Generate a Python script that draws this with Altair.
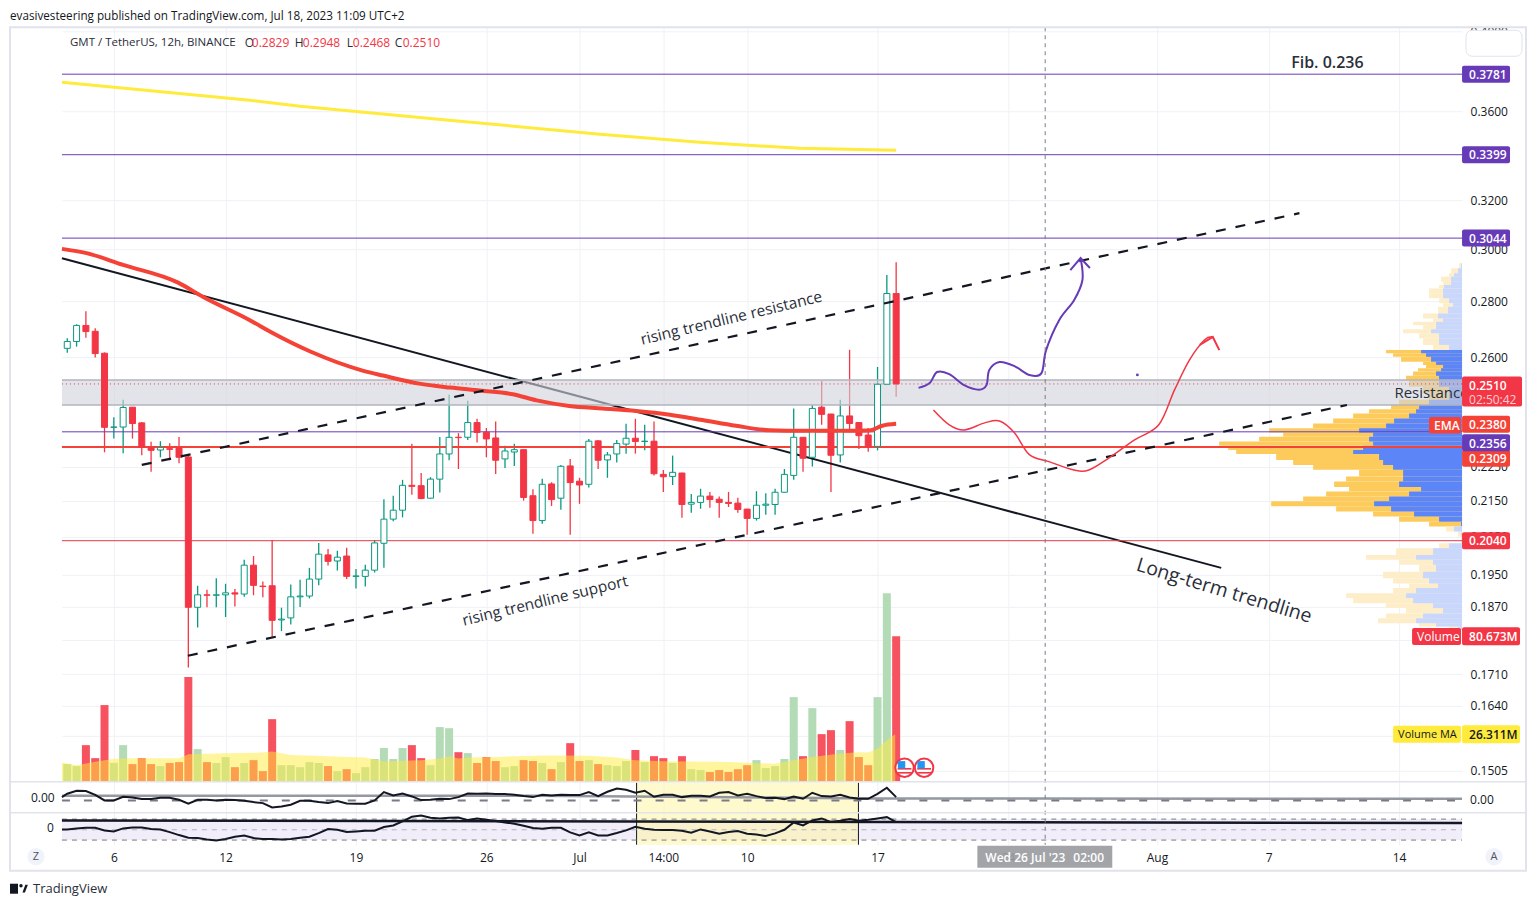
import json

import altair as alt
import pandas as pd

FONT = "Open Sans"
LEFT, TOP, PLOT_W, PLOT_H = 62, 27, 1401, 818

# candles, 12h bars
opens = [.2631, .2655, .2712, .2691, .2614, .2370, .2371, .2434, .2384, .2308,
         .2300, .2304, .2307, .2279, .1868, .1899, .1898, .1899, .1904, .1901,
         .1975, .1921, .1922, .1837, .1842, .1894, .1896, .1939, .2002, .1986,
         .1999, .1946, .1946, .1962, .2033, .2099, .2124, .2195, .2194, .2158,
         .2213, .2288, .2339, .2339, .2385, .2355, .2337, .2273, .2294, .2301,
         .2165, .2095, .2199, .2158, .2252, .2207, .2198, .2328, .2270, .2288,
         .2318, .2336, .2326, .2327, .2227, .2221, .2231, .2141, .2146, .2164,
         .2155, .2146, .2144, .2127, .2101, .2138, .2140, .2175, .2224, .2339,
         .2278, .2434, .2412, .2285, .2406, .2385, .2346, .2311, .2509, .2829]
highs = [.2666, .2716, .2763, .2702, .2617, .2402, .2458, .2434, .2387, .2325,
         .2327, .2321, .2340, .2283, .1922, .1912, .1941, .1927, .1914, .1989,
         .1999, .1933, .2042, .1867, .1925, .1937, .1968, .2034, .2018, .2013,
         .2021, .1965, .1976, .2042, .2155, .2165, .2211, .2319, .2231, .2219,
         .2340, .2474, .2352, .2455, .2397, .2368, .2388, .2313, .2319, .2302,
         .2184, .2214, .2204, .2255, .2273, .2217, .2334, .2331, .2294, .2331,
         .2381, .2397, .2378, .2388, .2240, .2283, .2232, .2170, .2185, .2176,
         .2163, .2176, .2159, .2128, .2178, .2172, .2185, .2243, .2430, .2339,
         .2443, .2520, .2413, .2458, .2626, .2387, .2368, .2567, .2899, .2948]
lows = [.2616, .2637, .2668, .2599, .2293, .2335, .2290, .2335, .2284, .2235,
        .2278, .2269, .2260, .1725, .1819, .1868, .1868, .1844, .1870, .1894,
        .1898, .1893, .1795, .1810, .1826, .1869, .1890, .1923, .1974, .1961,
        .1939, .1915, .1920, .1956, .1968, .2093, .2104, .2168, .2155, .2157,
        .2174, .2269, .2243, .2331, .2323, .2278, .2228, .2246, .2252, .2151,
        .2059, .2086, .2136, .2125, .2056, .2142, .2189, .2243, .2217, .2262,
        .2289, .2289, .2299, .2224, .2176, .2196, .2103, .2117, .2128, .2131,
        .2103, .2133, .2117, .2056, .2095, .2111, .2111, .2174, .2211, .2235,
        .2250, .2378, .2176, .2262, .2363, .2303, .2295, .2299, .2509, .2468]
closes = [.2655, .2712, .2690, .2613, .2370, .2371, .2433, .2382, .2308, .2299,
          .2308, .2302, .2278, .1868, .1899, .1898, .1899, .1904, .1901, .1975,
          .1923, .1920, .1836, .1839, .1894, .1896, .1939, .2004, .1985, .1996,
          .1946, .1947, .1962, .2034, .2099, .2124, .2195, .2192, .2157, .2213,
          .2288, .2339, .2338, .2385, .2354, .2334, .2269, .2297, .2301, .2160,
          .2095, .2198, .2154, .2251, .2203, .2196, .2327, .2269, .2285, .2320,
          .2336, .2326, .2327, .2229, .2220, .2233, .2140, .2146, .2164, .2154,
          .2146, .2143, .2126, .2101, .2138, .2141, .2175, .2227, .2339, .2275,
          .2430, .2411, .2284, .2406, .2382, .2344, .2309, .2509, .2829, .2510]
volumes = [9.8, 8.7, 20.3, 13.1, 42.5, 10.5, 20.3, 9.8, 13.1, 9.8,
           8.7, 10.4, 10.9, 58.0, 18.1, 10.9, 10.4, 13.7, 8.1, 10.4,
           12.0, 5.9, 34.7, 9.2, 9.2, 8.1, 10.9, 10.4, 8.7, 5.9,
           7.0, 4.8, 8.1, 12.6, 18.7, 12.6, 18.7, 20.3, 13.1, 9.2,
           30.3, 29.7, 16.4, 15.9, 10.4, 13.7, 11.5, 8.1, 8.7, 12.0,
           11.5, 10.4, 7.0, 10.9, 21.4, 11.5, 12.0, 9.8, 9.2, 8.7,
           11.5, 17.6, 10.9, 14.2, 13.1, 10.4, 14.2, 7.0, 6.5, 5.4,
           6.5, 5.4, 7.0, 9.2, 12.0, 7.6, 8.7, 12.6, 46.9, 14.2,
           40.8, 26.4, 28.6, 17.6, 33.6, 13.7, 9.2, 46.9, 104.5, 80.673]

ma_idx = [-.57, 1, 2, 3, 4, 5, 6, 12, 13, 16, 21, 22, 24, 28, 32, 34, 36, 38, 40,
          41, 42, 43, 46, 51, 53, 56, 59, 61, 64, 70, 73, 76, 78, 80, 83, 85, 86,
          87, 88, 88.9]
ma_values = [10.7, 9.2, 10.2, 11.1, 12.0, 12.6, 13.1, 13.1, 15.3, 15.7, 16.2, 16.8,
             14.8, 14.2, 13.5, 11.3, 11.6, 12.0, 12.9, 14.2, 12.9, 13.5, 13.8, 14.6,
             14.6, 14.4, 13.5, 12.0, 11.4, 11.1, 10.5, 10.0, 12.0, 13.8, 15.7, 16.4,
             16.2, 18.5, 23.1, 26.311]

ema_idx = [-.57, 2.07, 6, 11.9, 14.6, 19.6, 22.1, 26.1, 31.8, 33.9, 37.8, 41.1, 44.3,
           47.85, 50.4, 53.9, 57.5, 61.1, 64.7, 68.2, 71.8, 75.4, 79, 82.5, 86.1,
           87.5, 89]
ema_values = [.3001, .2984, .2938, .2870, .2816, .2731, .2684, .2620, .2554, .2538,
              .2511, .2498, .2488, .2476, .2456, .2438, .2430, .2422, .2410, .2393,
              .2375, .2361, .2359, .2359, .2360, .2375, .2381]
sma_idx = [-.57, 19.6, 25, 41, 57.2, 67.9, 78.6, 89]
sma_values = [.3741, .3653, .3624, .3558, .3492, .3455, .3428, .3419]

osc1_idx = [-.57] + list(range(90))
osc1 = [10, 20, 29, 28, 17, 0, 0, 11, 9, 4, 4, 8, 8, 2, -10, 2, 2, 0, 2, 1, -1,
        -5, -8, -21, -18, -13, -1, -1, -5, -8, -2, -9, -10, -10, 0, 25, 15, 21, 12,
        1, 2, 5, 4, 10, 21, 20, 21, 19,
        19, 17, 13, 10, 17, 15, 17, 16, 16, 25, 13, 26, 36, 32, 23, 29, 11, 17, 17,
        10, 14, 14, 12, 23, 25, 15, 20, 13, 7, 8, 4, 12, 5, 23, 13, 12, 17, 9, 5, 5,
        20, 38, 10]
osc2 = [1, 1, 4, 6, 6, -2, -5, 4, 7, 7, 2, 1, -7, -16, -24, -25, -29, -32, -28, -21,
        -17, -25, -28, -28, -29, -28, -24, -21, -10, 2, 0, -7, -5, -3, -3, 8, 13, 25,
        39, 43, 36, 34, 36, 37, 29, 34, 30, 26,
        22, 18, 12, 5, 3, 6, 6, -8, -17, -8, -17, -17, -10, -2, 9, 3, 0, -1, -1, -3,
        -9, 1, -5, -12, -7, -4, -12, -14, -19, -11, 0, 22, 13, 28, 34, 23, 27, 32, 27,
        30, 34, 38, 23]

# volume profile rows: upper edge of each row, total and up volume
row_edges = [.2944, .2925, .2906, .2893, .2873, .2861, .2848, .2830, .2811, .2793,
             .2780, .2755, .2737, .2725, .2713, .2698, .2684, .2666, .2643, .2625,
             .2614, .2602, .2585, .2574, .2563, .2552, .2537, .2523, .2501, .2479,
             .2458, .2441, .2427, .2414, .2398, .2382, .2367, .2354, .2341, .2326,
             .2313, .2300, .2288, .2270, .2255, .2241, .2221, .2206, .2190, .2177,
             .2163, .2149, .2135, .2120, .2106, .2092, .2079, .2065, .2051, .2033,
             .2020, .2002, .1989, .1976, .1958, .1941, .1928, .1916, .1903, .1891,
             .1878, .1866, .1853, .1841, .1829, .1821, .1813]
row_total = [3, 11, 13, 21, 19, 23, 33, 33, 23, 19, 24, 39, 29, 49, 39, 59, 43, 39, 29,
             76, 69, 61, 39, 36, 44, 49, 56, 53, 39, 33, 63, 71, 93, 109, 129, 149, 193,
             179, 203, 243, 234, 226, 186, 169, 149, 103, 116, 128, 113, 136, 159, 191,
             126, 89, 63, 33, 16, 4, 1, 23, 66, 96, 63, 43, 79, 69, 53, 69, 116, 109,
             76, 56, 76, 84, 43, 13]
row_up = [1, 4, 8, 11, 11, 18, 19, 19, 13, 9, 14, 24, 19, 26, 26, 31, 23, 23, 13,
          41, 36, 31, 26, 19, 21, 26, 23, 23, 13, 13, 33, 43, 46, 53, 68, 76, 103,
          89, 93, 89, 99, 109, 83, 79, 69, 59, 59, 63, 41, 53, 73, 88,
          71, 48, 23, 1, 8, 1, 0, 13, 29, 46, 29, 26, 39, 33, 24, 46, 56, 49,
          29, 19, 39, 46, 26, 4]

purple_levels = [.3781, .3399, .3044, .2356]
red_levels = [.2309, .2040]
band_low, band_high = .2441, .2523
last_price = .2510

trend_idx, trend_prices = [-.57, 123.9], [.2964, .1968]
resist_idx, resist_prices = [8.0, 132.3], [.2255, .3146]
support_idx, support_prices = [12.95, 137.4], [.1752, .2441]

purple_idx = [91.4, 92.6, 93.4, 94.7, 96.3, 97.9, 98.7, 99.0, 100.1, 101.7, 103.3, 104.6,
              105.1, 106.5, 108.1, 109.0, 108.8]
purple_prices = [.2497, .2513, .2550, .2543, .2506, .2491, .2506, .2557, .2584, .2570,
                 .2540, .2546, .2625, .2731, .2804, .2880, .2965]
purple_head_idx, purple_head_prices = [107.7, 108.8, 109.8], [.2918, .2965, .2926]
red_idx = [93.0, 94.7, 96.3, 98.5, 100.1, 101.7, 103.3, 105.4, 108.1, 109.7, 111.9, 114.6,
           117.2, 118.9, 120.5, 122.1, 123]
red_prices = [.2425, .2378, .2362, .2384, .2390, .2353, .2286, .2265, .2240, .2240, .2277,
              .2331, .2378, .2491, .2591, .2660, .2671]
red_head_idx, red_head_prices = [121.6, 123, 123.7], [.2643, .2671, .2625]

x_ticks = [5, 17, 31, 45, 55, 64, 73, 87, 101, 117, 129, 143]
x_tick_labels = ["6", "12", "19", "26", "Jul", "14:00", "10", "17", "24", "Aug", "7", "14"]
y_ticks = [.4000, .3600, .3200, .3000, .2800, .2600, .2250, .2150, .2050, .1950, .1870,
           .1790, .1710, .1640, .1575, .1505]

candles = pd.DataFrame({"i": range(90), "o": opens, "h": highs, "l": lows, "c": closes,
                        "vol": volumes})
candles["dir"] = ["up" if c >= o else "down" for o, c in zip(opens, closes)]
candles["top"] = candles[["o", "c"]].max(axis=1)
candles["bot"] = candles[["o", "c"]].min(axis=1)

profile = pd.DataFrame({"y": row_edges[:-1], "y2": row_edges[1:],
                        "total": row_total, "up": row_up, "zero": 0})
profile["zone"] = ["in" if .2092 <= y <= .2625 else "out" for y in row_edges[:-1]]

IDX = alt.Scale(domain=[-.569, 149.76], range=[0, PLOT_W], nice=False, zero=False, padding=0)
PRICE = alt.Scale(type="log", domain=[.1483, .4023], range=[755, 0], nice=False)
VOL = alt.Scale(domain=[0, 100], range=[755, 574.4], nice=False)
OSC1 = alt.Scale(domain=[-37, 53], range=[786, 756], nice=False, zero=False)
OSC2 = alt.Scale(domain=[-45, 48], range=[818, 787], nice=False, zero=False)
PROF = alt.Scale(domain=[0, PLOT_W], range=[PLOT_W, 0], nice=False)
FULL = alt.Scale(domain=[0, 1], range=[PLOT_H, 0], nice=False)

DIR_COL = alt.Scale(domain=["up", "down"], range=["#089981", "#f23645"])
DIR_FILL = alt.Scale(domain=["up", "down"], range=["#ffffff", "#f23645"])
VOL_COL = alt.Scale(domain=["up", "down"], range=["#b2dbb6", "#f7525f"])


def px(v):
    return alt.value(v - LEFT)


def py(v):
    return alt.value(v - TOP)


def xq(field):
    return alt.X(field, type="quantitative", scale=IDX, axis=None)


def yq(field, scale=PRICE):
    return alt.Y(field, type="quantitative", scale=scale, axis=None, stack=None)


def path(xs, ys, color, width, scale=PRICE, **mark):
    df = pd.DataFrame({"x": xs, "y": ys, "n": range(len(xs))})
    return alt.Chart(df).mark_line(color=color, strokeWidth=width, **mark).encode(
        x=xq("x"), y=yq("y", scale), order=alt.Order("n:Q"))


def label(txt, x, y, **mark):
    opts = dict(align="left", baseline="middle", font=FONT, fontSize=12, color="#131722", dy=.5)
    opts.update(mark)
    return alt.Chart(pd.DataFrame({"t": [txt]})).mark_text(**opts).encode(
        x=px(x), y=py(y), text="t:N")


def note(txt, i, price, **mark):
    opts = dict(align="center", baseline="middle", font=FONT, color="#2a2e39")
    opts.update(mark)
    return alt.Chart(pd.DataFrame({"t": [txt], "x": [i], "y": [price]})).mark_text(**opts).encode(
        x=xq("x"), y=yq("y"), text="t:N")


def box(x0, x1, y0, y1, **mark):
    return alt.Chart(pd.DataFrame({"a": [0]})).mark_rect(**mark).encode(
        x=px(x0), x2=px(x1), y=py(y0), y2=py(y1))


def tag(value, txt, color, x0, x1, scale, pad, txt_color="#ffffff", delta=None):
    # value is where the tag sits, the axis pushes crowded tags apart
    hi, lo = (value * pad, value / pad) if delta is None else (value + delta, value - delta)
    df = pd.DataFrame({"hi": [hi], "lo": [lo], "v": [value], "t": [txt]})
    back = alt.Chart(df).mark_rect(color=color, cornerRadius=2).encode(
        x=px(x0), x2=px(x1), y=yq("hi", scale), y2=alt.Y2("lo"))
    front = alt.Chart(df).mark_text(align="left", baseline="middle", font=FONT, fontSize=12,
                                    fontWeight=600, color=txt_color, dy=.7).encode(
        x=px(x0 + 7), y=yq("v", scale), text="t:N")
    return [back, front]


layers = []

# x axis on its own layer so the grid runs through all three panes
axis_expr = json.dumps(dict(zip(map(str, x_ticks), x_tick_labels))) + "[datum.value]"
layers.append(alt.Chart(pd.DataFrame({"x": x_ticks, "y": 0})).mark_rule(opacity=0).encode(
    x=alt.X("x:Q", scale=IDX, axis=alt.Axis(
        values=x_ticks, labelExpr=axis_expr, grid=True, gridColor="#f0f1f5", domain=False, ticks=False,
        title=None, labelFont=FONT, labelFontSize=12, labelColor="#131722", labelPadding=8,
        labelOverlap=False, labelFlush=False, orient="bottom")),
    y=alt.Y("y:Q", scale=FULL, axis=None)))

# profile sits under the resistance band
zone_yellow = alt.Scale(domain=["in", "out"], range=["#fdcb5c", "#fdeec9"])
zone_blue = alt.Scale(domain=["in", "out"], range=["#5c86f7", "#c8d7fb"])
layers.append(alt.Chart(profile).mark_rect().encode(
    x=alt.X("zero:Q", scale=PROF, axis=None), x2="total:Q", y=yq("y"), y2=alt.Y2("y2"),
    color=alt.Color("zone:N", scale=zone_yellow, legend=None)))
layers.append(alt.Chart(profile).mark_rect().encode(
    x=alt.X("zero:Q", scale=PROF, axis=None), x2="up:Q", y=yq("y"), y2=alt.Y2("y2"),
    color=alt.Color("zone:N", scale=zone_blue, legend=None)))

# sub panes
layers.append(box(62, 1463, 819.3, 840.3, color="#ede9f7", opacity=.8))
layers.append(box(637, 859, 783, 845, color="#fff59d", opacity=.5))
for x_line in [637, 859]:
    layers.append(alt.Chart(pd.DataFrame({"a": [0]})).mark_rule(color="#131722", strokeWidth=1).encode(
        x=px(x_line), y=py(783), y2=py(845)))

# wicks carry the price axis
layers.append(alt.Chart(candles).mark_rule(strokeWidth=1.3).encode(
    x=alt.X("i:Q", scale=IDX, axis=None),
    y=alt.Y("h:Q", scale=PRICE, axis=alt.Axis(
        values=y_ticks, format=".4f", grid=True, gridColor="#f0f1f5", domain=False, ticks=False,
        title=None, labelFont=FONT, labelFontSize=12, labelColor="#131722", labelPadding=8,
        labelOverlap=False, labelFlush=False, orient="right")),
    y2="l:Q",
    color=alt.Color("dir:N", scale=DIR_COL, legend=None)))

layers.append(path(trend_idx, trend_prices, "#131722", 2))
layers.append(alt.Chart(pd.DataFrame({"a": [band_high], "b": [band_low]})).mark_rect(
    color="#d1d4dc", opacity=.62).encode(y=yq("a"), y2=alt.Y2("b")))
layers.append(alt.Chart(pd.DataFrame({"y": [band_high, band_low]})).mark_rule(
    color="#b2b5be", strokeWidth=1.5).encode(y=yq("y")))

layers.append(alt.Chart(pd.DataFrame({"y": purple_levels})).mark_rule(
    color="#673ab7", strokeWidth=1).encode(y=yq("y")))
layers.append(alt.Chart(pd.DataFrame({"y": red_levels[:1]})).mark_rule(
    color="#f44336", strokeWidth=2).encode(y=yq("y")))
layers.append(alt.Chart(pd.DataFrame({"y": red_levels[1:]})).mark_rule(
    color="#e53945", strokeWidth=1).encode(y=yq("y")))
layers.append(alt.Chart(pd.DataFrame({"y": [last_price]})).mark_rule(
    color="#f23645", strokeWidth=1, strokeDash=[1, 3]).encode(y=yq("y")))

# candle bodies
layers.append(alt.Chart(candles).mark_bar(size=6, strokeWidth=1).encode(
    x=xq("i"), y=yq("top"), y2=alt.Y2("bot"),
    fill=alt.Fill("dir:N", scale=DIR_FILL, legend=None),
    stroke=alt.Stroke("dir:N", scale=DIR_COL, legend=None)))

# volume and its moving average
layers.append(alt.Chart(candles).mark_bar(size=8, orient="vertical").encode(
    x=xq("i"), y=yq("vol", VOL),
    color=alt.Color("dir:N", scale=VOL_COL, legend=None)))
layers.append(alt.Chart(pd.DataFrame({"x": ma_idx, "y": ma_values})).mark_area(
    color="#ffeb3b", opacity=.5, orient="vertical").encode(x=xq("x"), y=yq("y", VOL)))

layers.append(path(sma_idx, sma_values, "#ffeb3b", 3))
layers.append(path(ema_idx, ema_values, "#f44336", 4, interpolate="monotone"))
layers.append(path(resist_idx, resist_prices, "#131722", 2.2, strokeDash=[10, 10]))
layers.append(path(support_idx, support_prices, "#131722", 2.2, strokeDash=[10, 10]))
layers.append(path(purple_idx, purple_prices, "#673ab7", 2, interpolate="cardinal"))
layers.append(path(purple_head_idx, purple_head_prices, "#673ab7", 2))
layers.append(path(red_idx, red_prices, "#f23645", 1.5, interpolate="cardinal"))
layers.append(path(red_head_idx, red_head_prices, "#f23645", 2))
layers.append(alt.Chart(pd.DataFrame({"x": [114.9], "y": [.2540]})).mark_circle(
    color="#673ab7", size=8, opacity=1).encode(x=xq("x"), y=yq("y")))

# oscillators
layers.append(path([-.57, 50, 87, 149.76], [14, 14, 6, 5], "#9598a1", 2.5, OSC1))
layers.append(path([-.57, 149.76], [0, 0], "#787b86", 2, OSC1, strokeDash=[8, 14]))
layers.append(path(osc1_idx, osc1, "#131722", 2, OSC1))
for lvl in [32, 0, -31]:
    layers.append(path([-.57, 149.76], [lvl, lvl], "#787b86" if lvl else "#b2b5be", 1, OSC2,
                       strokeDash=[5, 5]))
layers.append(path([-.57, 149.76], [28, 20], "#131722", 2.5, OSC2))
layers.append(path(osc1_idx, osc2, "#131722", 2, OSC2))

# crosshair
layers.append(alt.Chart(pd.DataFrame({"x": [105]})).mark_rule(
    color="#787b86", strokeWidth=1, strokeDash=[4, 4]).encode(x=xq("x"), y=py(27), y2=py(845)))

# economic events
events = pd.DataFrame({"x": [89.9, 92]})
layers.append(alt.Chart(events).mark_point(
    shape="circle", filled=True, fill="#ffffff", stroke="#f23645", strokeWidth=2, size=340,
    opacity=1).encode(x=xq("x"), y=py(768)))
for y_off in [1, 5]:
    layers.append(alt.Chart(events).mark_point(
        shape="M-1,-0.12H1V0.12H-1Z", filled=True, color="#f23645", size=190, opacity=1,
        yOffset=y_off).encode(x=xq("x"), y=py(768)))
layers.append(alt.Chart(events).mark_point(
    shape="square", filled=True, color="#2196f3", size=55, opacity=1, xOffset=-3, yOffset=-3).encode(
    x=xq("x"), y=py(768)))

# drawing labels
layers.append(note("rising trendline resistance", 71.3, .2738, fontSize=15.5, angle=346.5))
layers.append(note("rising trendline support", 51.3, .1884, fontSize=15.5, angle=346.4))
layers.append(note("Long-term trendline", 124.2, .1909, fontSize=19.5, angle=16.8))
layers.append(note("Fib. 0.236", 135.3, .3836, fontSize=16, fontWeight=600))
layers.append(note("Resistance", 142.5, .2480, fontSize=15, align="left", clip=True))

# price tags
layers += tag(.2380, "0.2380", "#f44336", 1463, 1511, PRICE, 1.0113)
layers += tag(.2275, "0.2309", "#f44336", 1463, 1511, PRICE, 1.0113)
layers += tag(.2040, "0.2040", "#f23645", 1463, 1511, PRICE, 1.0113)
for lvl in purple_levels[:3]:
    layers += tag(lvl, f"{lvl:.4f}", "#673ab7", 1463, 1511, PRICE, 1.0113)
layers += tag(.2322, "0.2356", "#673ab7", 1463, 1511, PRICE, 1.0113)
layers.append(box(1430, 1462, 417, 433.5, color="#f44336", cornerRadius=2))
layers.append(label("EMA", 1435, 425.5, color="#ffffff", fontWeight=600))
layers.append(box(1463, 1523, 376.5, 406.5, color="#f23645", cornerRadius=2))
layers.append(label("0.2510", 1470, 385, color="#ffffff", fontWeight=600))
layers.append(label("02:50:42", 1470, 399, color="#ffffff", opacity=.75))
layers += tag(80.673, "80.673M", "#f23645", 1463, 1521, VOL, 1, delta=5)
layers.append(box(1413, 1462, 628, 645, color="#f23645", cornerRadius=2))
layers.append(label("Volume", 1418, 636.5, color="#ffffff"))
layers += tag(26.311, "26.311M", "#ffeb3b", 1463, 1521, VOL, 1, txt_color="#131722", delta=5)
layers.append(box(1394, 1462, 726, 743, color="#ffeb3b", cornerRadius=2))
layers.append(label("Volume MA", 1399, 734.5, fontSize=11))

# frame and furniture
layers.append(box(10, 1527, 27, 871, fillOpacity=0, stroke="#e0e3eb", strokeWidth=2))
for sep_y in [782, 813]:
    layers.append(alt.Chart(pd.DataFrame({"a": [0]})).mark_rule(color="#e0e3eb", strokeWidth=1.5).encode(
        x=px(10), x2=px(1527), y=py(sep_y)))
layers.append(box(978, 1113, 846, 868, color="#9b9ca1", opacity=.92))
layers.append(label("Wed 26 Jul '23", 986, 858, color="#ffffff", fontWeight=600))
layers.append(label("02:00", 1074, 858, color="#ffffff", fontWeight=600))
layers.append(box(1467, 1523, 30, 56, fill="#ffffff", stroke="#e0e3eb", cornerRadius=6))
layers.append(label("0.00", 31, 798))
layers.append(label("0", 47, 828))
layers.append(label("0.00", 1471, 800))
for bx, txt in [(36, "Z"), (1495, "A")]:
    layers.append(alt.Chart(pd.DataFrame({"a": [0]})).mark_point(
        shape="circle", filled=True, color="#f0f3fa", size=300, opacity=1).encode(x=px(bx), y=py(857)))
    layers.append(label(txt, bx, 857, align="center", fontSize=11, color="#50535e"))

layers.append(label("evasivesteering published on TradingView.com, Jul 18, 2023 11:09 UTC+2", 10, 15,
                    fontSize=11.7))
layers.append(label("GMT / TetherUS, 12h, BINANCE", 70, 42, color="#2a2e39", fontSize=11.5))
for lx, txt, col in [(245, "O", "#2a2e39"), (252, "0.2829", "#f23645"),
                     (295, "H", "#2a2e39"), (303, "0.2948", "#f23645"),
                     (347, "L", "#2a2e39"), (353, "0.2468", "#f23645"),
                     (395, "C", "#2a2e39"), (403, "0.2510", "#f23645")]:
    layers.append(label(txt, lx, 42, color=col))

# logo
layers.append(box(10, 18, 884, 894, color="#131722"))
layers.append(alt.Chart(pd.DataFrame({"a": [0]})).mark_point(
    shape="circle", filled=True, color="#131722", size=12, opacity=1).encode(x=px(21), y=py(886)))
layers.append(alt.Chart(pd.DataFrame({"a": [0]})).mark_point(
    shape="M-.4,1 L.35,-1 H1 L.25,1 Z", filled=True, color="#131722", size=60, opacity=1).encode(
    x=px(24), y=py(889)))
layers.append(label("TradingView", 33, 889, fontSize=13, color="#2a2e39"))

chart = alt.layer(*layers).resolve_scale(
    x="independent", y="independent", color="independent", fill="independent", stroke="independent"
).properties(
    width=PLOT_W, height=PLOT_H,
    padding={"left": LEFT - 8, "top": TOP - 8, "right": 67, "bottom": 60},
    autosize="none",
).configure_view(stroke=None)

chart.save("out.html", embed_options={"renderer": "svg", "actions": False})
